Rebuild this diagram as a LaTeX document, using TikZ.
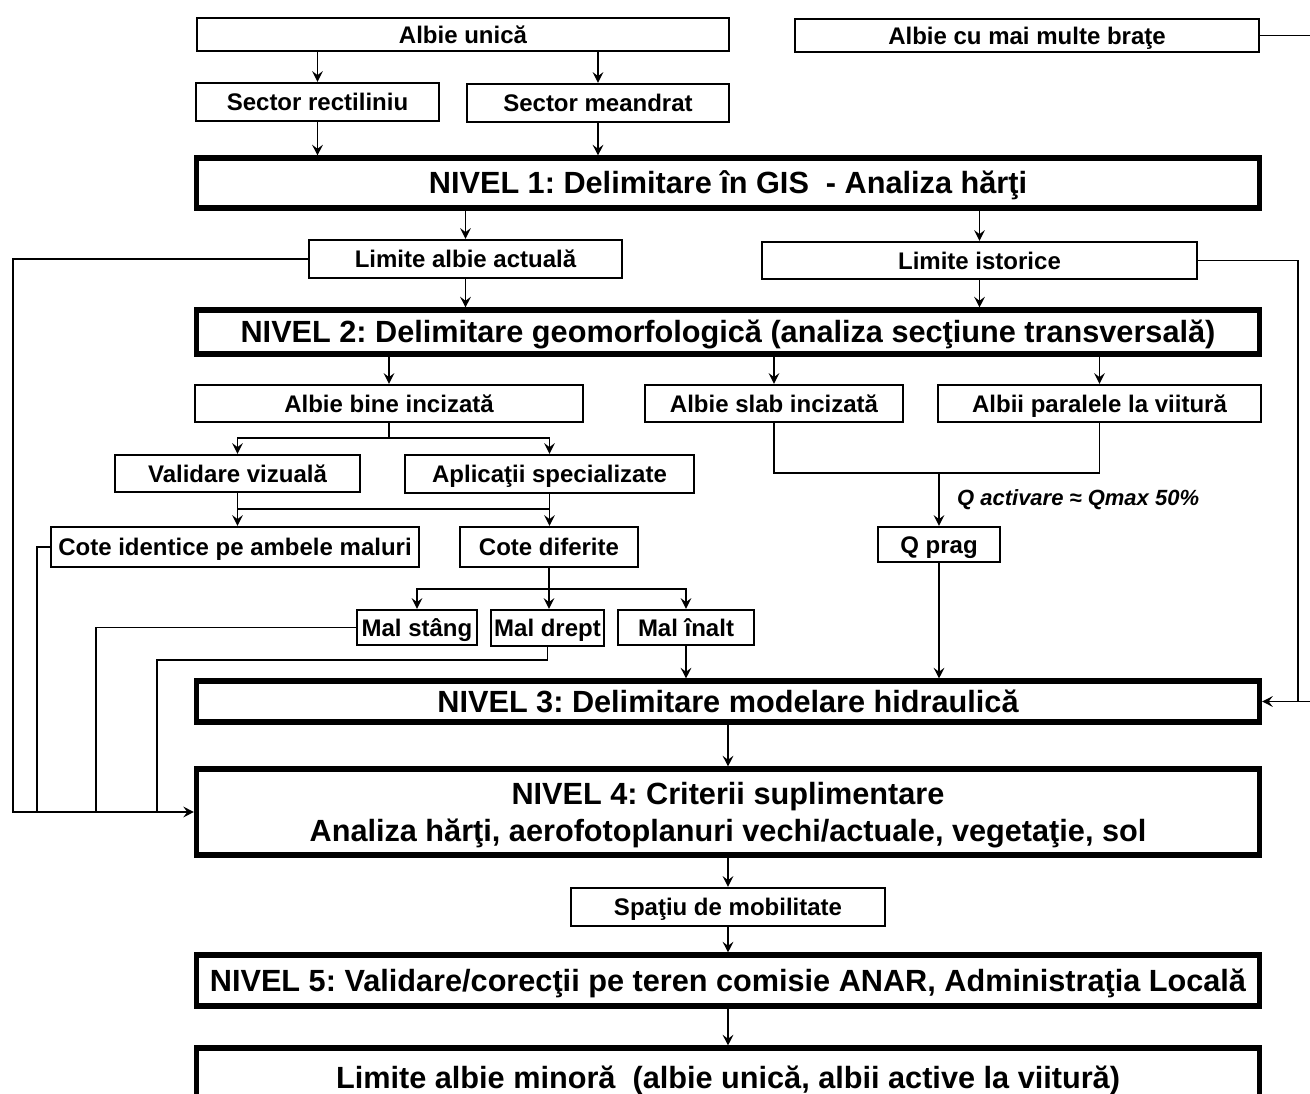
\documentclass[tikz,border=0pt]{standalone}
\usepackage{fontspec}
\setmainfont{Liberation Sans}
\usetikzlibrary{arrows.meta,calc}
\frenchspacing

\begin{document}
\begin{tikzpicture}[x=0.75pt,y=0.75pt,yscale=-1,xscale=1,
    box/.style 2 args={draw, line width=1.8pt, inner sep=0pt, minimum width=#1*0.75pt, minimum height=#2*0.75pt, text height=12.9pt, text depth=0pt, font=\fontsize{18}{21}\selectfont\bfseries},
    level/.style={draw, line width=3.8pt, inner sep=0pt, minimum width=1063*0.75pt, minimum height=#1*0.75pt, text height=16.5pt, text depth=0pt, align=center, font=\fontsize{23}{28}\selectfont\bfseries},
    conn/.style={line width=1.2pt},
    arr/.style={conn, -{Stealth[length=8pt,width=8pt,inset=3pt]}},
    qlabel/.style={inner sep=0pt, font=\fontsize{16.5}{19}\selectfont\bfseries\itshape}]
    \useasboundingbox (0,0) rectangle (1310,1094);
    \clip (0,0) rectangle (1310,1094);

    % Top boxes
    \node[box={532}{33}] (unica) at (463,34.5) {Albie unică};
    \node[box={464}{33}] (brate) at (1027,35.5) {Albie cu mai multe braţe};
    \node[box={243}{38}] (rect) at (317.5,102) {Sector rectiliniu};
    \node[box={262}{38}] (meand) at (598,103) {Sector meandrat};
    % Level 1
    \node[level=50] (niv1) at (728,183) {NIVEL 1: Delimitare în GIS \ - Analiza hărţi};
    \node[box={313}{38}] (actual) at (465.5,259) {Limite albie actuală};
    \node[box={435}{37}] (istoric) at (979.5,260.5) {Limite istorice};
    % Level 2
    \node[level=44] (niv2) at (728,332) {NIVEL 2: Delimitare geomorfologică (analiza secţiune transversală)};
    \node[box={388}{37}] (bine) at (389,403.5) {Albie bine incizată};
    \node[box={258}{37}] (slab) at (774,403.5) {Albie slab incizată};
    \node[box={323}{37}] (paralel) at (1099.5,403.5) {Albii paralele la viitură};
    \node[box={245}{37}] (vizual) at (237.5,473.5) {Validare vizuală};
    \node[box={289}{38}] (aplic) at (549.5,474) {Aplicaţii specializate};
    \node[box={368}{40}] (identic) at (235,547) {Cote identice pe ambele maluri};
    \node[box={178}{40}] (diferit) at (549,547) {Cote diferite};
    \node[box={122}{35}] (qprag) at (939,544.5) {Q prag};
    \node[box={120}{35}] (stang) at (417,627.5) {Mal stâng};
    \node[box={113}{36}] (drept) at (547.5,628) {Mal drept};
    \node[box={136}{35}] (inalt) at (686,627.5) {Mal înalt};
    % Levels 3 to 5
    \node[level=41] (niv3) at (728,701.5) {NIVEL 3: Delimitare modelare hidraulică};
    \node[level=86, text height=44.5pt] (niv4) at (728,812) {NIVEL 4: Criterii suplimentare\\Analiza hărţi, aerofotoplanuri vechi/actuale, vegetaţie, sol};
    \node[box={314}{38}] (spatiu) at (728,907) {Spaţiu de mobilitate};
    \node[level=51] (niv5) at (728,980.5) {NIVEL 5: Validare/corecţii pe teren comisie ANAR, Administraţia Locală};
    \node[level=58] (minora) at (728,1077) {Limite albie minoră \ (albie unică, albii active la viitură)};

    % Helper coordinates
    \coordinate (qjoin) at (939,473);
    \coordinate (xa) at (13,0);
    \coordinate (xb) at (37,0);
    \coordinate (xc) at (96,0);
    \coordinate (xd) at (157,0);
    \coordinate (xr) at (1298,0);
    \coordinate (xrr) at (1320,0);

    % Arrows, top part
    \draw[arr] (unica.south -| rect.north) -- (rect.north);
    \draw[arr] (unica.south -| meand.north) -- (meand.north);
    \draw[arr] (rect.south) -- (rect.south |- niv1.north);
    \draw[arr] (meand.south) -- (meand.south |- niv1.north);
    \draw[arr] (niv1.south -| actual.north) -- (actual.north);
    \draw[arr] (niv1.south -| istoric.north) -- (istoric.north);
    \draw[arr] (actual.south) -- (actual.south |- niv2.north);
    \draw[arr] (istoric.south) -- (istoric.south |- niv2.north);
    \draw[arr] (niv2.south -| bine.north) -- (bine.north);
    \draw[arr] (niv2.south -| slab.north) -- (slab.north);
    \draw[arr] (niv2.south -| paralel.north) -- (paralel.north);

    % Arrows, middle part
    \draw[arr] (bine.south) -- ++(0,15) -| (vizual.north);
    \draw[arr] (bine.south) -- ++(0,15) -| (aplic.north);
    \draw[arr] (vizual.south) -- (vizual.south |- identic.north);
    \draw[arr] (aplic.south) -- (aplic.south |- diferit.north);
    \draw[conn] ($(vizual.south)+(0,16)$) -| (aplic.south);
    \draw[arr] (diferit.south) -- ++(0,21) -| (stang.north);
    \draw[arr] (diferit.south) -- ++(0,21) -| (inalt.north);
    \draw[arr] (diferit.south) -- (diferit.south |- drept.north);
    \draw[conn] (slab.south) |- (qjoin) -| (paralel.south);
    \draw[arr] (qjoin) -- (qprag.north) node[qlabel, midway, right=13pt] (qact) {Q activare ≈ Qmax 50\%};
    \draw[arr] (qprag.south) -- (qprag.south |- niv3.north);
    \draw[arr] (inalt.south) -- (inalt.south |- niv3.north);

    % Arrows, bottom part
    \draw[arr] (niv3.south) -- (niv4.north);
    \draw[arr] (niv4.south) -- (spatiu.north);
    \draw[arr] (spatiu.south) -- (niv5.north);
    \draw[arr] (niv5.south) -- (minora.north);

    % Side returns
    \draw[arr] (actual.west) -| (xa |- niv4.west) -- (niv4.west);
    \draw[conn] (identic.west) -| (xb |- niv4.west);
    \draw[conn] (stang.west) -| (xc |- niv4.west);
    \draw[conn] (drept.south) -- ++(0,13) -| (xd |- niv4.west);
    \draw[arr] (istoric.east) -| (xr |- niv3.east) -- (niv3.east);
    \draw[conn] (brate.east) -| (xrr |- niv3.east) -- (xr |- niv3.east);

\end{tikzpicture}
\end{document}
